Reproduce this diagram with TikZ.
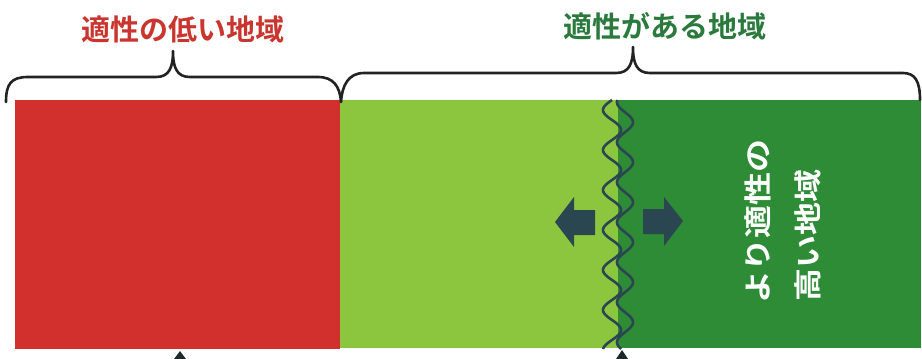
\documentclass[tikz,border=0pt]{standalone}
\usepackage{fontspec}
\newfontfamily\jp{Noto Sans CJK JP}[BoldFont={* Bold}]
\newfontfamily\jpw{Noto Sans CJK JP}[BoldFont={* Bold},FakeStretch=1.18]
\definecolor{cred}{HTML}{D1302C}
\definecolor{lgreen}{HTML}{8CC63F}
\definecolor{dgreen}{HTML}{2E8B36}
\definecolor{tred}{HTML}{C9362F}
\definecolor{tgreen}{HTML}{2B7A3D}
\definecolor{navy}{HTML}{2A4650}
\definecolor{tipc}{HTML}{1E2A2A}
\definecolor{bracec}{HTML}{222222}
\begin{document}
\begin{tikzpicture}[x=1pt,y=-1pt,
  bracestyle/.style={draw=bracec,line width=2.6pt,line cap=round,line join=round},
  wavestyle/.style={draw=navy,line width=2.6pt},
  blockarrow/.style={fill=navy},
  tiptri/.style={fill=tipc},
  titletext/.style={inner sep=0pt,font=\jp\bfseries\fontsize{29pt}{29pt}\selectfont},
  vtext/.style={white,rotate=90,anchor=west,inner sep=0pt,font=\jpw\bfseries\fontsize{28pt}{28pt}\selectfont}]
\useasboundingbox (0,0) rectangle (922,359);
% regions
\fill[cred] (15,100) rectangle (340,349);
\fill[lgreen] (340,100) rectangle (618,348);
\fill[dgreen] (618,100) rectangle (921,348);
% wavy boundary
\draw[wavestyle] plot[domain=100:349,samples=250,smooth] ({612+9*sin(9*\x)},\x);
\draw[wavestyle] plot[domain=100:349,samples=250,smooth] ({625+8*sin(9*\x+70)},\x);
% block arrows
\fill[blockarrow] (555,222) -- (574,197) -- (574,210) -- (595,210) -- (595,235) -- (574,235) -- (574,247) -- cycle;
\fill[blockarrow] (683,221) -- (664,197) -- (664,209) -- (643,209) -- (643,234) -- (664,234) -- (664,246) -- cycle;
% bottom tips
\fill[tiptri] (180,351) -- (186,359) -- (174,359) -- cycle;
\fill[tiptri] (622,350) -- (628,359) -- (616,359) -- cycle;
% braces
\draw[bracestyle] (6,102) .. controls (6,84) and (11,77) .. (28,77) -- (156,77)
  .. controls (169,77) and (173,68) .. (173,51)
  .. controls (173,68) and (177,77) .. (190,77) -- (318,77)
  .. controls (333,77) and (340,86) .. (341,102);
\draw[bracestyle] (341,102) .. controls (342,86) and (348,73) .. (364,73) -- (616,73)
  .. controls (629,73) and (633,64) .. (633,47)
  .. controls (633,64) and (637,73) .. (650,73) -- (903,73)
  .. controls (915,73) and (920,81) .. (920,100);
% texts
\node[titletext,tred] (t1) at (183,29) {適性の低い地域};
\node[titletext,tgreen] (t2) at (665,26) {適性がある地域};
\node[vtext] (v1) at (758,304) {より適性の};
\node[vtext] (v2) at (808,302) {高い地域};
\end{tikzpicture}
\end{document}
